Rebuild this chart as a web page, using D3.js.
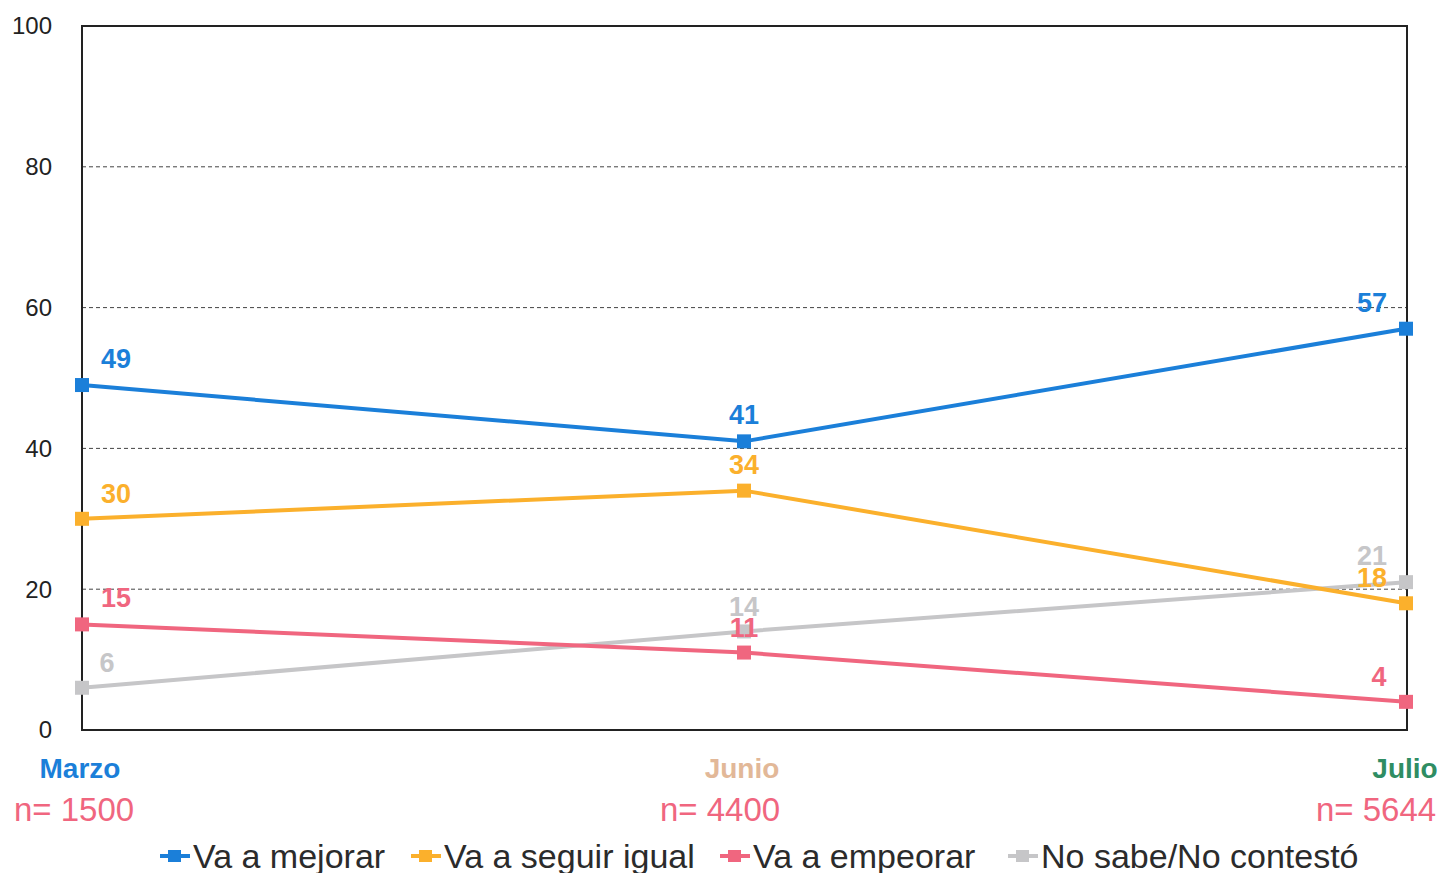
<!DOCTYPE html>
<html>
<head>
<meta charset="utf-8">
<script src="https://cdn.jsdelivr.net/npm/d3@7"></script>
<style>
body { margin: 0; background: #fff; }
text { font-family: "Liberation Sans", Arial, sans-serif; }
.grid line { stroke: #444; stroke-width: 1; stroke-dasharray: 4,3; }
.tick-label { font-size: 24px; fill: #222; }
.val { font-size: 27px; font-weight: bold; }
.legend text { font-size: 34px; fill: #2b2b2b; }
</style>
</head>
<body>
<script>
// datos
var months = ["Marzo", "Junio", "Julio"];
var sampleSizes = ["n= 1500", "n= 4400", "n= 5644"];
var seriesNames = ["Va a mejorar", "Va a seguir igual", "Va a empeorar", "No sabe/No contestó"];
var mejorar = [49, 41, 57];
var seguirIgual = [30, 34, 18];
var empeorar = [15, 11, 4];
var noSabe = [6, 14, 21];
var yTicks = [0, 20, 40, 60, 80, 100];

var colors = ["#1b7fd9", "#fbb02c", "#f0667f", "#c6c6c8"];
var monthColors = ["#1b7fd9", "#e2b898", "#2f8d63"];
var nColor = "#f0667f";

// desplazamiento de etiquetas [dx, dy] por serie y mes
var labelOff = [
    [[34, -17], [0, -17], [-34, -17]],
    [[34, -16], [0, -17], [-34, -16]],
    [[34, -17], [0, -16], [-27, -16]],
    [[25, -16], [0, -15], [-34, -17]]
];
var series = [mejorar, seguirIgual, empeorar, noSabe];

var W = 1443, H = 873;
var mLeft = 82, mRight = 1407, mTop = 26, mBottom = 730;

var svg = d3.select("body").append("svg")
    .attr("width", W)
    .attr("height", H);

var x = d3.scalePoint().domain(months).range([mLeft, mRight - 1]);
var y = d3.scaleLinear().domain([0, 100]).range([mBottom, mTop]);

// grilla
svg.append("g").attr("class", "grid")
    .selectAll("line")
    .data(yTicks.filter(d => d > 0 && d < 100))
    .enter().append("line")
    .attr("x1", mLeft).attr("x2", mRight)
    .attr("y1", d => y(d)).attr("y2", d => y(d));

// eje y
svg.selectAll(".tick-label")
    .data(yTicks)
    .enter().append("text")
    .attr("class", "tick-label")
    .attr("x", 52)
    .attr("y", d => y(d))
    .attr("dy", "0.35em")
    .attr("text-anchor", "end")
    .text(d => d);

// marco
svg.append("rect")
    .attr("x", mLeft).attr("y", mTop)
    .attr("width", mRight - mLeft).attr("height", mBottom - mTop)
    .attr("fill", "none")
    .attr("stroke", "#222")
    .attr("stroke-width", 2);

var line = d3.line()
    .x((d, i) => x(months[i]))
    .y(d => y(d));

// gris primero para que quede debajo
var order = [3, 2, 1, 0];
order.forEach(function(s) {
    var g = svg.append("g");
    g.append("path")
        .datum(series[s])
        .attr("d", line)
        .attr("fill", "none")
        .attr("stroke", colors[s])
        .attr("stroke-width", 4);
    g.selectAll("rect")
        .data(series[s])
        .enter().append("rect")
        .attr("x", (d, i) => x(months[i]) - 7)
        .attr("y", d => y(d) - 7)
        .attr("width", 14).attr("height", 14)
        .attr("fill", colors[s]);
});

// etiquetas de valores
order.forEach(function(s) {
    svg.append("g").selectAll("text")
        .data(series[s])
        .enter().append("text")
        .attr("class", "val")
        .attr("x", (d, i) => x(months[i]) + labelOff[s][i][0])
        .attr("y", (d, i) => y(d) + labelOff[s][i][1])
        .attr("text-anchor", "middle")
        .attr("fill", colors[s])
        .text(d => d);
});

// etiquetas de categoria
var monthX = [80, 742, 1405];
var nX = [74, 720, 1376];
svg.selectAll(".month")
    .data(months)
    .enter().append("text")
    .attr("class", "month")
    .attr("x", (d, i) => monthX[i])
    .attr("y", 778)
    .attr("text-anchor", "middle")
    .attr("font-size", 28)
    .attr("font-weight", "bold")
    .attr("fill", (d, i) => monthColors[i])
    .text(d => d);

svg.selectAll(".nlab")
    .data(sampleSizes)
    .enter().append("text")
    .attr("class", "nlab")
    .attr("x", (d, i) => nX[i])
    .attr("y", 821)
    .attr("text-anchor", "middle")
    .attr("font-size", 33)
    .attr("fill", nColor)
    .text(d => d);

// leyenda
var legX = [160, 411, 720, 1008];
var leg = svg.append("g").attr("class", "legend")
    .selectAll("g")
    .data(seriesNames)
    .enter().append("g")
    .attr("transform", (d, i) => "translate(" + legX[i] + ",856)");
leg.append("line")
    .attr("x1", 0).attr("x2", 30)
    .attr("stroke", (d, i) => colors[i])
    .attr("stroke-width", 4);
leg.append("rect")
    .attr("x", 8).attr("y", -6)
    .attr("width", 13).attr("height", 12)
    .attr("fill", (d, i) => colors[i]);
leg.append("text")
    .attr("x", 33)
    .attr("dy", "0.36em")
    .text(d => d);
</script>
</body>
</html>
